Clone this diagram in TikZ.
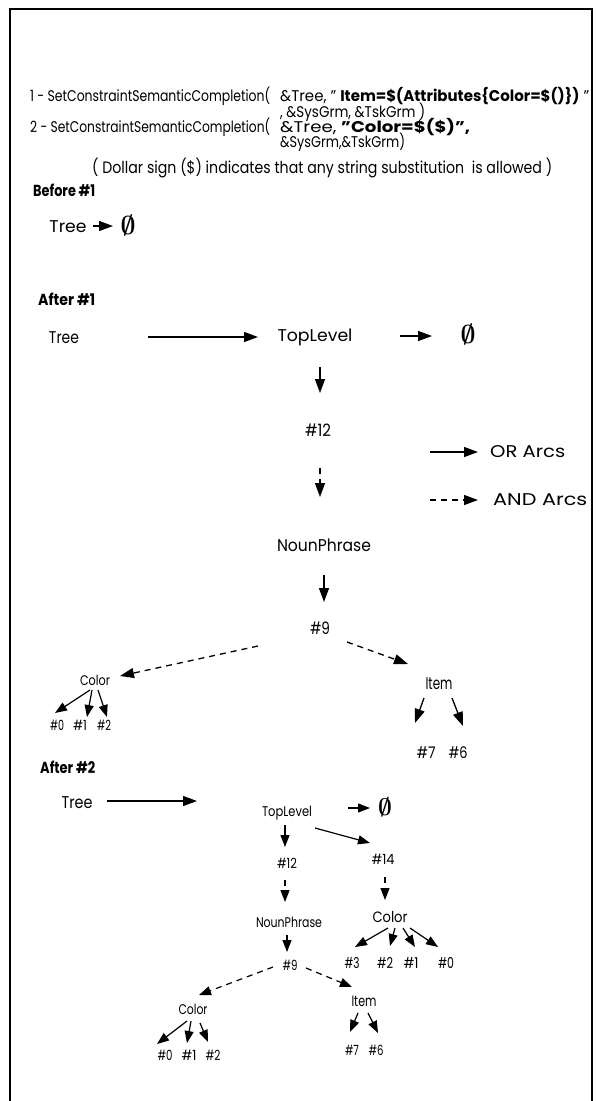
\documentclass[tikz,border=0pt]{standalone}
\usepackage{fontspec}
\setmainfont{Poppins}
\usetikzlibrary{arrows.meta}
\newcommand\fsz[1]{\fontsize{#1}{#1}\selectfont}
\newcommand\fitw[2]{\resizebox{#1pt}{\height}{#2}}
\newcommand\eset[1]{\scalebox{#1}{\boldmath$\emptyset$}}
\begin{document}
\begin{tikzpicture}[x=1pt,y=-1pt,
  lbl/.style={inner sep=0pt},
  txt/.style={inner sep=0pt, anchor=west},
  big/.style={line width=1.3pt, -{Triangle[length=14pt,width=10pt]}},
  sml/.style={line width=1.2pt, -{Triangle[length=12pt,width=9pt]}},
  dsh/.style={dash pattern=on 6pt off 5pt}]
\useasboundingbox (0,0) rectangle (597,1101);
\draw[line width=2pt] (10,1101) -- (10,9) -- (592,9) -- (592,1101);

% header text
\node[txt] (l1a) at (30,96) {\fsz{15.5}\fitw{240}{1 - SetConstraintSemanticCompletion(}};
\node[txt] (l1b) at (280,96) {\fsz{15.5}\fitw{309}{\&Tree, " \textbf{Item=\$(Attributes\{Color=\$()\})} "}};
\node[txt] (l2) at (280,112) {\fsz{15.5}\fitw{145}{, \&SysGrm, \&TskGrm )}};
\node[txt] (l3a) at (30,127) {\fsz{15.5}\fitw{240}{2 - SetConstraintSemanticCompletion(}};
\node[txt] (l3b) at (280,127) {\fsz{15.5}\fitw{190}{\&Tree, \textbf{"Color=\$(\$)",}}};
\node[txt] (l4) at (280,142) {\fsz{15.5}\fitw{125}{\&SysGrm,\&TskGrm)}};
\node[txt] (dol) at (92,168) {\fsz{16.5}\fitw{460}{( Dollar sign (\$) indicates that any string substitution\ \ is allowed )}};

% Before #1
\node[txt] (hb1) at (33,190) {\fsz{16}\fitw{62}{\textbf{Before \#1}}};
\node[lbl] (tree0) at (68,227) {\fsz{17}\fitw{37}{Tree}};
\node[lbl] (e0) at (128,225) {\eset{2.6}};
\draw[big] ([shift={(25,-1)}]tree0.center) -- ([shift={(-15,1)}]e0.center);

% After #1
\node[txt] (ha1) at (38,299) {\fsz{16}\fitw{57}{\textbf{After \#1}}};
\node[lbl] (tree1) at (64,338) {\fsz{17}\fitw{30}{Tree}};
\node[lbl] (top1) at (315,337) {\fsz{17}\fitw{75}{TopLevel}};
\node[lbl] (e1) at (468,334) {\eset{2.6}};
\node[lbl] (n12a) at (318,430) {\fsz{17}\fitw{26}{\#12}};
\node[lbl] (np1) at (324,545) {\fsz{17}\fitw{94}{NounPhrase}};
\node[lbl] (n9a) at (320,628) {\fsz{17}\fitw{20}{\#9}};
\node[lbl] (col1) at (95,680) {\fsz{14}\fitw{30}{Color}};
\node[lbl] (item1) at (439,684) {\fsz{17}\fitw{27}{Item}};
\node[lbl] (h0a) at (57,725) {\fsz{14}\fitw{14}{\#0}};
\node[lbl] (h1a) at (80,725) {\fsz{14}\fitw{14}{\#1}};
\node[lbl] (h2a) at (104,725) {\fsz{14}\fitw{14}{\#2}};
\node[lbl] (h7a) at (426,753) {\fsz{16}\fitw{19}{\#7}};
\node[lbl] (h6a) at (458,753) {\fsz{16}\fitw{19}{\#6}};

\draw[big] ([shift={(84,-1)}]tree1.center) -- ([shift={(-57,0)}]top1.center);
\draw[big] ([shift={(85,-1)}]top1.center) -- ([shift={(-36,2)}]e1.center);
\draw[big] ([shift={(5,30)}]top1.center) -- ([shift={(2,-37)}]n12a.center);
\draw[big,dsh] ([shift={(2,38)}]n12a.center) -- ([shift={(-4,-48)}]np1.center);
\draw[big] ([shift={(0,30)}]np1.center) -- ([shift={(4,-26)}]n9a.center);
\draw[big,dsh] ([shift={(-62,18)}]n9a.center) -- ([shift={(25,-4)}]col1.center);
\draw[big,dsh] ([shift={(27,14)}]n9a.center) -- ([shift={(-31,-20)}]item1.center);
\draw[sml] ([shift={(-5,10)}]col1.center) -- ([shift={(-2,-12)}]h0a.center);
\draw[sml] ([shift={(-3,10)}]col1.center) -- ([shift={(7,-8)}]h1a.center);
\draw[sml] ([shift={(3,10)}]col1.center) -- ([shift={(3,-8)}]h2a.center);
\draw[big] ([shift={(-15,14)}]item1.center) -- ([shift={(-11,-30)}]h7a.center);
\draw[big] ([shift={(13,14)}]item1.center) -- ([shift={(5,-27)}]h6a.center);

% legend
\coordinate (orl) at (430,452);
\node[txt] (ortxt) at (490,452) {\fsz{17}\fitw{75}{OR Arcs}};
\draw[big] (orl) -- ([shift={(-12,0)}]ortxt.west);
\coordinate (andl) at (430,500);
\node[txt] (andtxt) at (493,500) {\fsz{17}\fitw{94}{AND Arcs}};
\draw[big,dsh] (andl) -- ([shift={(-15,0)}]andtxt.west);

% After #2
\node[txt] (ha2) at (40,767) {\fsz{16}\fitw{55}{\textbf{After \#2}}};
\node[lbl] (tree2) at (77,803) {\fsz{17}\fitw{31}{Tree}};
\node[lbl] (top2) at (287,813) {\fsz{14}\fitw{50}{TopLevel}};
\node[lbl] (e2) at (385,807) {\eset{2.4}};
\node[lbl] (n12b) at (287,863) {\fsz{14}\fitw{20}{\#12}};
\node[lbl] (n14) at (383,859) {\fsz{14}\fitw{23}{\#14}};
\node[lbl] (np2) at (289,922) {\fsz{14}\fitw{66}{NounPhrase}};
\node[lbl] (col2) at (390,917) {\fsz{15}\fitw{35}{Color}};
\node[lbl] (n9b) at (290,965) {\fsz{14}\fitw{15}{\#9}};
\node[lbl] (h3b) at (352,963) {\fsz{15}\fitw{15}{\#3}};
\node[lbl] (h2b) at (385,963) {\fsz{15}\fitw{16}{\#2}};
\node[lbl] (h1b) at (411,963) {\fsz{15}\fitw{15}{\#1}};
\node[lbl] (h0b) at (446,963) {\fsz{15}\fitw{16}{\#0}};
\node[lbl] (col3) at (193,1009) {\fsz{14}\fitw{29}{Color}};
\node[lbl] (item2) at (364,1001) {\fsz{15}\fitw{25}{Item}};
\node[lbl] (h0c) at (165,1055) {\fsz{14}\fitw{15}{\#0}};
\node[lbl] (h1c) at (189,1055) {\fsz{14}\fitw{15}{\#1}};
\node[lbl] (h2c) at (213,1055) {\fsz{14}\fitw{15}{\#2}};
\node[lbl] (h7c) at (352,1050) {\fsz{14}\fitw{14}{\#7}};
\node[lbl] (h6c) at (376,1050) {\fsz{14}\fitw{15}{\#6}};

\draw[big] ([shift={(30,-2)}]tree2.center) -- ([shift={(-90,-12)}]top2.center);
\draw[sml] ([shift={(61,-5)}]top2.center) -- ([shift={(-15,1)}]e2.center);
\draw[sml] ([shift={(28,15)}]top2.center) -- ([shift={(-13,-16)}]n14.center);
\draw[sml] ([shift={(-2,12)}]top2.center) -- ([shift={(-2,-16)}]n12b.center);
\draw[sml,dsh] ([shift={(-2,17)}]n12b.center) -- ([shift={(-4,-20)}]np2.center);
\draw[sml,dsh] ([shift={(2,18)}]n14.center) -- ([shift={(-5,-17)}]col2.center);
\draw[sml] ([shift={(-2,13)}]np2.center) -- ([shift={(-3,-13)}]n9b.center);
\draw[sml] ([shift={(-2,11)}]col2.center) -- ([shift={(3,-16)}]h3b.center);
\draw[sml] ([shift={(5,11)}]col2.center) -- ([shift={(5,-17)}]h2b.center);
\draw[sml] ([shift={(13,11)}]col2.center) -- ([shift={(4,-16)}]h1b.center);
\draw[sml] ([shift={(20,11)}]col2.center) -- ([shift={(-8,-16)}]h0b.center);
\draw[sml,dsh] ([shift={(-17,2)}]n9b.center) -- ([shift={(6,-14)}]col3.center);
\draw[sml,dsh] ([shift={(16,3)}]n9b.center) -- ([shift={(-12,-14)}]item2.center);
\draw[sml] ([shift={(-6,12)}]col3.center) -- ([shift={(-8,-11)}]h0c.center);
\draw[sml] ([shift={(-2,12)}]col3.center) -- ([shift={(-2,-12)}]h1c.center);
\draw[sml] ([shift={(7,14)}]col3.center) -- ([shift={(-5,-13)}]h2c.center);
\draw[sml] ([shift={(-6,12)}]item2.center) -- ([shift={(-2,-18)}]h7c.center);
\draw[sml] ([shift={(4,12)}]item2.center) -- ([shift={(2,-17)}]h6c.center);
\end{tikzpicture}
\end{document}
